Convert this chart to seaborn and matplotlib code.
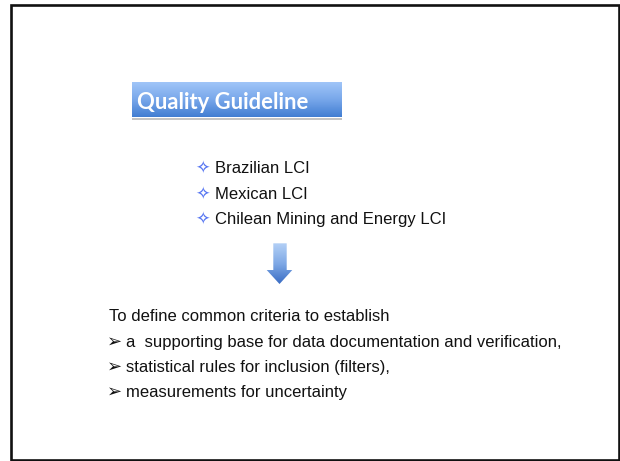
import numpy as np
import seaborn as sns
import matplotlib.pyplot as plt
from matplotlib.patches import Rectangle, Polygon
from matplotlib.colors import LinearSegmentedColormap

# slide content
title = "Quality Guideline"
inventories = ["Brazilian LCI", "Mexican LCI", "Chilean Mining and Energy LCI"]
intro = "To define common criteria to establish"
criteria = ["a  supporting base for data documentation and verification,",
            "statistical rules for inclusion (filters),",
            "measurements for uncertainty"]

sns.set_theme(style="white")
plt.rcParams['font.family'] = ['Liberation Sans', 'DejaVu Sans']

W, H = 620, 461
fig = plt.figure(figsize=(W / 100, H / 100), dpi=100)
ax = fig.add_axes([0, 0, 1, 1])
ax.set_xlim(0, W)
ax.set_ylim(H, 0)
ax.axis("off")

# slide frame
ax.add_patch(Rectangle((11, 5), 608, 455, fill=False, lw=1.9, ec="#111111"))

# title box with a vertical gradient
box_cmap = LinearSegmentedColormap.from_list("box", ["#a0c5f8", "#78a7ea", "#427ed2"])
grad = np.linspace(0, 1, 100).reshape(-1, 1)
ax.add_patch(Rectangle((132, 117.5), 210, 2.5, color="#c4c4c4", lw=0))
ax.imshow(grad, cmap=box_cmap, aspect="auto", extent=(132, 342, 117.5, 83), zorder=2)
ax.set_xlim(0, W)
ax.set_ylim(H, 0)

t = ax.text(137, 109.3, title, fontsize=17, fontweight="bold", color="white",
            family=["Lato", "DejaVu Sans"], va="baseline", zorder=3)
fig.canvas.draw()
w = t.get_window_extent().width
t.set_fontsize(17 * 171 / w)

# inventories with star bullets
for i, name in enumerate(inventories):
    yb = 173.3 + i * 25.4
    ax.text(203, yb - 4.6, "\u2727", fontsize=12.5, color="#5474f2", ha="center",
            va="center", family=["DejaVu Sans"])
    ax.text(215, yb, name, fontsize=12, color="#111111", va="baseline")

# down arrow with gradient fill
arrow = Polygon([(273.3, 243.3), (286.7, 243.3), (286.7, 270), (292.3, 270),
                 (279.5, 284), (266.7, 270), (273.3, 270)], closed=True,
                fc="none", ec="none")
ax.add_patch(arrow)
arrow_cmap = LinearSegmentedColormap.from_list("arr", ["#b3d0f6", "#7fa9e6", "#3a6dc4"])
im = ax.imshow(grad, cmap=arrow_cmap, aspect="auto", extent=(266, 293, 284, 243), zorder=2)
im.set_clip_path(arrow)
ax.set_xlim(0, W)
ax.set_ylim(H, 0)

# criteria block
ax.text(109, 321.3, intro, fontsize=12, color="#111111", va="baseline")
for i, line in enumerate(criteria):
    yb = 346.5 + i * 25
    ax.text(114.5, yb - 4.8, "\u27a2", fontsize=13, color="#111111", ha="center",
            va="center", family=["DejaVu Sans"])
    ax.text(126.5, yb, line, fontsize=12, color="#111111", va="baseline")

fig.savefig("out.png", dpi=100)
